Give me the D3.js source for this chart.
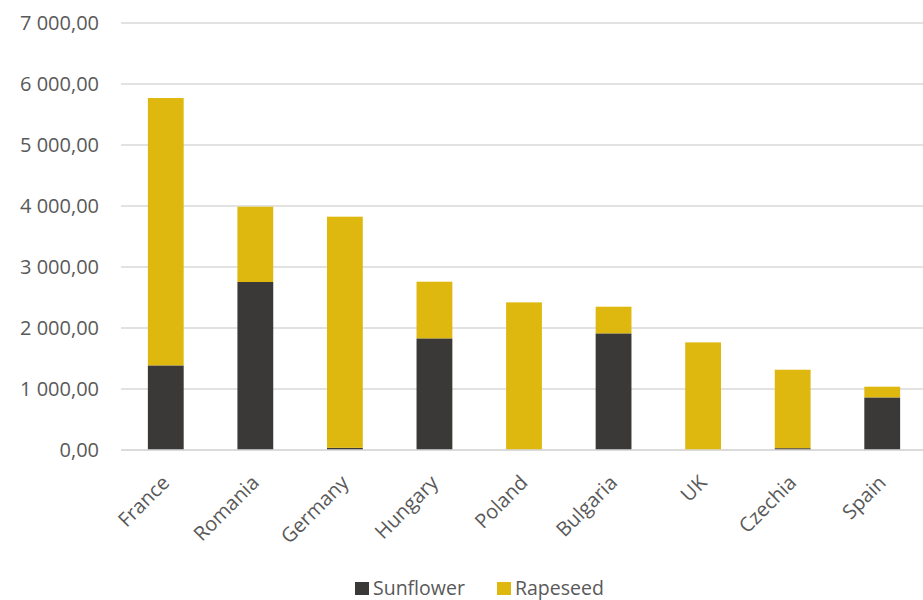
<!DOCTYPE html>
<html>
<head>
<meta charset="utf-8">
<script src="https://cdn.jsdelivr.net/npm/d3@7"></script>
<style>
  html, body { margin: 0; padding: 0; background: #fff; }
  svg text { font-family: "Open Sans", sans-serif; fill: #595959; }
</style>
</head>
<body>
<svg id="chart" width="923" height="600"></svg>
<script>
// Oilseed production by country (stacked: sunflower + rapeseed)
const countries = ["France", "Romania", "Germany", "Hungary", "Poland", "Bulgaria", "UK", "Czechia", "Spain"];
const sunflower = [1387, 2754, 35, 1830, 5, 1912, 0, 30, 862];
const rapeseed  = [4383, 1234, 3790, 929, 2415, 437, 1764, 1286, 176];
const seriesNames = ["Sunflower", "Rapeseed"];
const seriesColors = ["#3a3937", "#dfb80f"];
const yTicks = [0, 1000, 2000, 3000, 4000, 5000, 6000, 7000];

const svg = d3.select("#chart");
const plot = { left: 121, right: 927, top: 23, bottom: 450 };

const x = d3.scaleBand()
  .domain(countries)
  .range([plot.left, plot.right])
  .paddingInner(0.6)
  .paddingOuter(0.3);

const y = d3.scaleLinear()
  .domain([0, 7000])
  .range([plot.bottom, plot.top]);

const fmt = v => d3.format(",.2f")(v).replace(/,/g, " ").replace(".", ",");

// Horizontal gridlines
svg.append("g")
  .selectAll("line")
  .data(yTicks)
  .join("line")
  .attr("x1", plot.left)
  .attr("x2", plot.right)
  .attr("y1", d => y(d))
  .attr("y2", d => y(d))
  .attr("stroke", "#d9d9d9")
  .attr("stroke-width", 1.5);

// Y axis labels
const yAxis = d3.axisLeft(y).tickValues(yTicks).tickFormat(fmt).tickSize(0).tickPadding(22);
const yg = svg.append("g").attr("transform", `translate(${plot.left},0)`).call(yAxis);
yg.select(".domain").remove();
yg.selectAll("text").style("font-size", "20px").attr("fill", "#595959");

// Stacked bars
const table = countries.map((c, i) => ({ country: c, Sunflower: sunflower[i], Rapeseed: rapeseed[i] }));
const stack = d3.stack().keys(seriesNames)(table);

svg.append("g")
  .selectAll("g")
  .data(stack)
  .join("g")
  .attr("fill", (d, i) => seriesColors[i])
  .selectAll("rect")
  .data(d => d)
  .join("rect")
  .attr("x", d => x(d.data.country))
  .attr("width", x.bandwidth())
  .attr("y", d => y(d[1]))
  .attr("height", d => y(d[0]) - y(d[1]));

// Category axis line
svg.append("line")
  .attr("x1", plot.left).attr("x2", plot.right)
  .attr("y1", y(0)).attr("y2", y(0))
  .attr("stroke", "#d9d9d9").attr("stroke-width", 1.5);

// Rotated category labels
svg.append("g")
  .selectAll("text")
  .data(countries)
  .join("text")
  .attr("transform", d => `translate(${x(d) + x.bandwidth() / 2},479) rotate(-45)`)
  .attr("text-anchor", "end")
  .attr("dy", "0.35em")
  .style("font-size", "20px")
  .text(d => d);

// Legend
const legendX = [355, 497];
const legend = svg.append("g")
  .selectAll("g")
  .data(seriesNames)
  .join("g")
  .attr("transform", (d, i) => `translate(${legendX[i]},582)`);
legend.append("rect")
  .attr("width", 14).attr("height", 13)
  .attr("fill", (d, i) => seriesColors[i]);
legend.append("text")
  .attr("x", 18).attr("y", 12.5)
  .style("font-size", "19.5px")
  .text(d => d);
</script>
</body>
</html>
